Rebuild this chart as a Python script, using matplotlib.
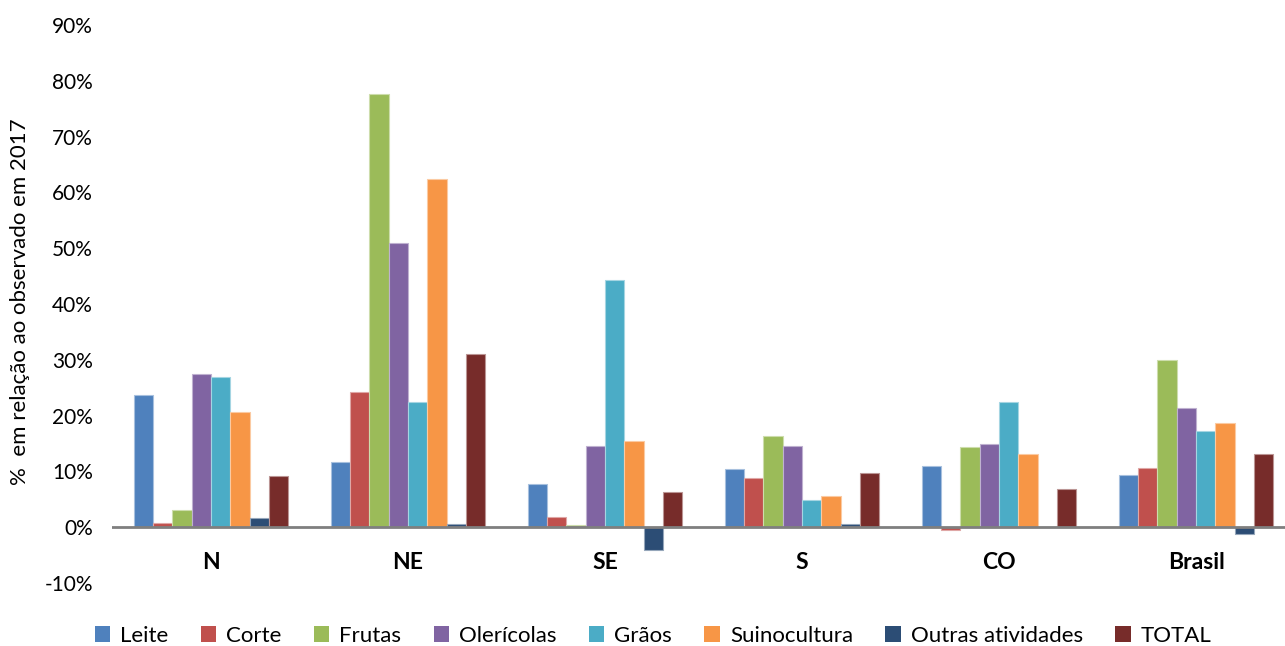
import matplotlib
matplotlib.use("Agg")
import matplotlib.pyplot as plt
import numpy as np
from matplotlib.ticker import FuncFormatter

regions = ["N", "NE", "SE", "S", "CO", "Brasil"]
series_names = ["Leite", "Corte", "Frutas", "Olerícolas", "Grãos", "Suinocultura",
                "Outras atividades", "TOTAL"]
leite = [23.7, 11.6, 7.8, 10.5, 10.9, 9.3]
corte = [0.7, 24.2, 1.8, 8.8, -0.5, 10.6]
frutas = [3.0, 77.6, 0.4, 16.4, 14.3, 29.9]
olericolas = [27.4, 50.9, 14.5, 14.5, 15.0, 21.3]
graos = [27.0, 22.4, 44.3, 4.8, 22.5, 17.2]
suinocultura = [20.6, 62.4, 15.4, 5.6, 13.1, 18.6]
outras = [1.6, 0.5, -4.1, 0.5, 0.0, -1.2]
total = [9.1, 31.0, 6.3, 9.7, 6.8, 13.2]
series_values = [leite, corte, frutas, olericolas, graos, suinocultura, outras, total]
colors = ["#4F81BD", "#C0504D", "#9BBB59", "#8064A2", "#4BACC6", "#F79646",
          "#2C4D75", "#772C2A"]
edges = ["#A7C0DE", "#DFA7A6", "#CDDDAC", "#BFB1D0", "#A5D5E2", "#FBCAA2",
         "#95A6BA", "#BB9594"]
yticks = [-10, 0, 10, 20, 30, 40, 50, 60, 70, 80, 90]

plt.rcParams['font.family'] = ['Lato', 'DejaVu Sans']

W, H = 1285, 646
fig = plt.figure(figsize=(W / 100, H / 100), dpi=100)
ax = fig.add_axes([112.5 / W, (H - 583) / H, (1285 - 112.5) / W, 558 / H])

x = np.arange(len(regions))
n = len(series_values)
group_w = 0.785
bw = group_w / n
for i, (vals, name) in enumerate(zip(series_values, series_names)):
    offs = -group_w / 2 + bw * (i + 0.5)
    ax.bar(x + offs, vals, width=bw, color=colors[i], edgecolor=edges[i],
           linewidth=0.8, label=name, zorder=2)

ax.set_ylim(-10, 90)
ax.set_xlim(-0.5, (1285 - 211) / 197)
ax.set_yticks(yticks)
ax.yaxis.set_major_formatter(FuncFormatter(lambda v, p: f"{int(round(v))}%"))
ax.tick_params(axis='y', length=0, labelsize=15, pad=14, colors='black')
ax.set_xticks([])
for s in ax.spines.values():
    s.set_visible(False)
ax.axhline(0, color='#7F7F7F', linewidth=2, zorder=3)

for xi, r in zip(x, regions):
    ax.text(xi, -7.5, r, ha='center', va='baseline', fontsize=16.5, fontweight='bold')

fig.text(20 / W, 1 - 302 / H, "%  em relação ao observado em 2017", rotation=90,
         ha='center', va='center', fontsize=16)

leg = fig.legend(loc='center', bbox_to_anchor=(653 / W, 1 - 636 / H), ncol=8,
                 frameon=False, fontsize=16, handlelength=0.7, handleheight=0.7,
                 handletextpad=0.45, columnspacing=1.45, borderaxespad=0)
for h in leg.legend_handles:
    h.set_linewidth(0)

fig.savefig("out.png", dpi=100)
